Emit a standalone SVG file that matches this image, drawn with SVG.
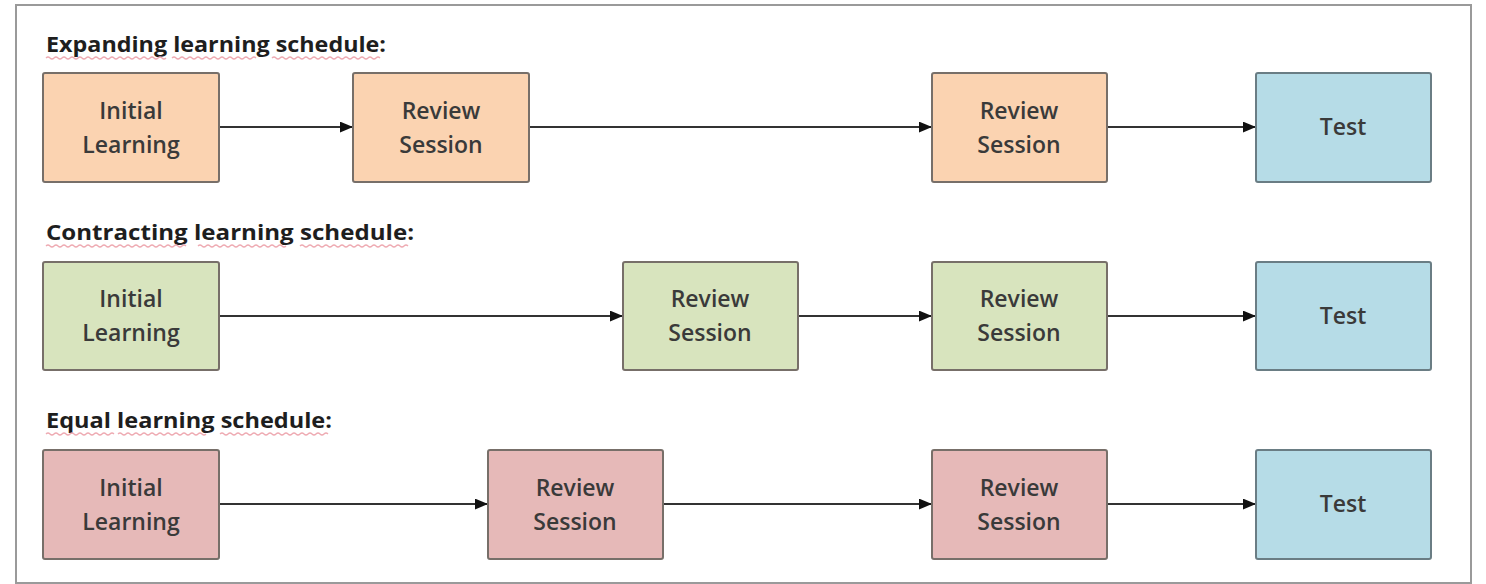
<svg xmlns="http://www.w3.org/2000/svg" width="1486" height="584" viewBox="0 0 1486 584">
  <defs>
    <marker id="arrow" viewBox="0 0 12 10" refX="12" refY="5" markerWidth="13" markerHeight="11" markerUnits="userSpaceOnUse" orient="auto">
      <path d="M0,0 L12,5 L0,10 Z" fill="#111"/>
    </marker>
    <style>
      .frame { fill: #ffffff; stroke: #9a9a9a; stroke-width: 2; }
      .box { stroke: #776f69; stroke-width: 2; }
      .expand { fill: #fbd3b1; }
      .contract { fill: #d8e4be; }
      .equal { fill: #e6b9b8; }
      .test { fill: #b6dce7; stroke: #6a7d84; }
      .label { font-family: "Open Sans", "Liberation Sans", sans-serif; font-size: 23px; font-weight: 600; fill: #3a3a3a; text-anchor: middle; }
      .title { font-family: "Open Sans", "Liberation Sans", sans-serif; font-size: 21px; font-weight: bold; fill: #1e1e1e; }
      .squiggle { fill: none; stroke: #eeaab2; stroke-width: 1.3; }
      .link { stroke: #333; stroke-width: 2; fill: none; marker-end: url(#arrow); }
    </style>
  </defs>

  <rect x="0" y="0" width="1486" height="584" fill="#ffffff"/>
  <rect class="frame" x="16" y="5" width="1455" height="578"/>

  <!-- schedule headings with spell-check underlines -->
  <g id="headings">
    <text class="title" x="46" y="52" textLength="340" lengthAdjust="spacingAndGlyphs">Expanding learning schedule:</text>
    <path class="squiggle" d="M46,58 q2,-2 4,0 t4,0 t4,0 t4,0 t4,0 t4,0 t4,0 t4,0 t4,0 t4,0 t4,0 t4,0 t4,0 t4,0 t4,0 t4,0 t4,0 t4,0 t4,0 t4,0 t4,0 t4,0 t4,0 t4,0 t4,0 t4,0 t4,0 t4,0 t4,0 t4,0 M172,58 q2,-2 4,0 t4,0 t4,0 t4,0 t4,0 t4,0 t4,0 t4,0 t4,0 t4,0 t4,0 t4,0 t4,0 t4,0 t4,0 t4,0 t4,0 t4,0 t4,0 t4,0 t4,0 M272,58 q2,-2 4,0 t4,0 t4,0 t4,0 t4,0 t4,0 t4,0 t4,0 t4,0 t4,0 t4,0 t4,0 t4,0 t4,0 t4,0 t4,0 t4,0 t4,0 t4,0 t4,0 t4,0 t4,0 t4,0 t4,0 t4,0 t4,0 t4,0"/>
    <text class="title" x="46" y="240" textLength="368" lengthAdjust="spacingAndGlyphs">Contracting learning schedule:</text>
    <path class="squiggle" d="M46,246 q2,-2 4,0 t4,0 t4,0 t4,0 t4,0 t4,0 t4,0 t4,0 t4,0 t4,0 t4,0 t4,0 t4,0 t4,0 t4,0 t4,0 t4,0 t4,0 t4,0 t4,0 t4,0 t4,0 t4,0 t4,0 t4,0 t4,0 t4,0 t4,0 t4,0 t4,0 t4,0 t4,0 t4,0 t4,0 t4,0 M198,246 q2,-2 4,0 t4,0 t4,0 t4,0 t4,0 t4,0 t4,0 t4,0 t4,0 t4,0 t4,0 t4,0 t4,0 t4,0 t4,0 t4,0 t4,0 t4,0 t4,0 t4,0 t4,0 t4,0 M300,246 q2,-2 4,0 t4,0 t4,0 t4,0 t4,0 t4,0 t4,0 t4,0 t4,0 t4,0 t4,0 t4,0 t4,0 t4,0 t4,0 t4,0 t4,0 t4,0 t4,0 t4,0 t4,0 t4,0 t4,0 t4,0 t4,0 t4,0 t4,0"/>
    <text class="title" x="46" y="428" textLength="286" lengthAdjust="spacingAndGlyphs">Equal learning schedule:</text>
    <path class="squiggle" d="M46,434 q2,-2 4,0 t4,0 t4,0 t4,0 t4,0 t4,0 t4,0 t4,0 t4,0 t4,0 t4,0 t4,0 t4,0 t4,0 t4,0 t4,0 t4,0 M118,434 q2,-2 4,0 t4,0 t4,0 t4,0 t4,0 t4,0 t4,0 t4,0 t4,0 t4,0 t4,0 t4,0 t4,0 t4,0 t4,0 t4,0 t4,0 t4,0 t4,0 t4,0 t4,0 t4,0 M220,434 q2,-2 4,0 t4,0 t4,0 t4,0 t4,0 t4,0 t4,0 t4,0 t4,0 t4,0 t4,0 t4,0 t4,0 t4,0 t4,0 t4,0 t4,0 t4,0 t4,0 t4,0 t4,0 t4,0 t4,0 t4,0 t4,0 t4,0 t4,0"/>
  </g>

  <!-- connectors -->
  <g id="connectors">
    <line class="link" x1="219" y1="127" x2="353" y2="127"/>
    <line class="link" x1="529" y1="127" x2="932" y2="127"/>
    <line class="link" x1="1107" y1="127" x2="1256" y2="127"/>

    <line class="link" x1="219" y1="316" x2="623" y2="316"/>
    <line class="link" x1="798" y1="316" x2="932" y2="316"/>
    <line class="link" x1="1107" y1="316" x2="1256" y2="316"/>

    <line class="link" x1="219" y1="504" x2="488" y2="504"/>
    <line class="link" x1="663" y1="504" x2="932" y2="504"/>
    <line class="link" x1="1107" y1="504" x2="1256" y2="504"/>
  </g>

  <!-- expanding schedule -->
  <g id="exp-initial">
    <rect class="box expand" x="43" y="73" width="176" height="109" rx="2"/>
    <text class="label" x="131" y="119">Initial</text>
    <text class="label" x="131" y="153">Learning</text>
  </g>
  <g id="exp-review1">
    <rect class="box expand" x="353" y="73" width="176" height="109" rx="2"/>
    <text class="label" x="441" y="119">Review</text>
    <text class="label" x="441" y="153">Session</text>
  </g>
  <g id="exp-review2">
    <rect class="box expand" x="932" y="73" width="175" height="109" rx="2"/>
    <text class="label" x="1019" y="119">Review</text>
    <text class="label" x="1019" y="153">Session</text>
  </g>
  <g id="exp-test">
    <rect class="box test" x="1256" y="73" width="175" height="109" rx="2"/>
    <text class="label" x="1343" y="135">Test</text>
  </g>

  <!-- contracting schedule -->
  <g id="con-initial">
    <rect class="box contract" x="43" y="262" width="176" height="108" rx="2"/>
    <text class="label" x="131" y="307">Initial</text>
    <text class="label" x="131" y="341">Learning</text>
  </g>
  <g id="con-review1">
    <rect class="box contract" x="623" y="262" width="175" height="108" rx="2"/>
    <text class="label" x="710" y="307">Review</text>
    <text class="label" x="710" y="341">Session</text>
  </g>
  <g id="con-review2">
    <rect class="box contract" x="932" y="262" width="175" height="108" rx="2"/>
    <text class="label" x="1019" y="307">Review</text>
    <text class="label" x="1019" y="341">Session</text>
  </g>
  <g id="con-test">
    <rect class="box test" x="1256" y="262" width="175" height="108" rx="2"/>
    <text class="label" x="1343" y="324">Test</text>
  </g>

  <!-- equal schedule -->
  <g id="eq-initial">
    <rect class="box equal" x="43" y="450" width="176" height="109" rx="2"/>
    <text class="label" x="131" y="496">Initial</text>
    <text class="label" x="131" y="530">Learning</text>
  </g>
  <g id="eq-review1">
    <rect class="box equal" x="488" y="450" width="175" height="109" rx="2"/>
    <text class="label" x="575" y="496">Review</text>
    <text class="label" x="575" y="530">Session</text>
  </g>
  <g id="eq-review2">
    <rect class="box equal" x="932" y="450" width="175" height="109" rx="2"/>
    <text class="label" x="1019" y="496">Review</text>
    <text class="label" x="1019" y="530">Session</text>
  </g>
  <g id="eq-test">
    <rect class="box test" x="1256" y="450" width="175" height="109" rx="2"/>
    <text class="label" x="1343" y="512">Test</text>
  </g>
</svg>
